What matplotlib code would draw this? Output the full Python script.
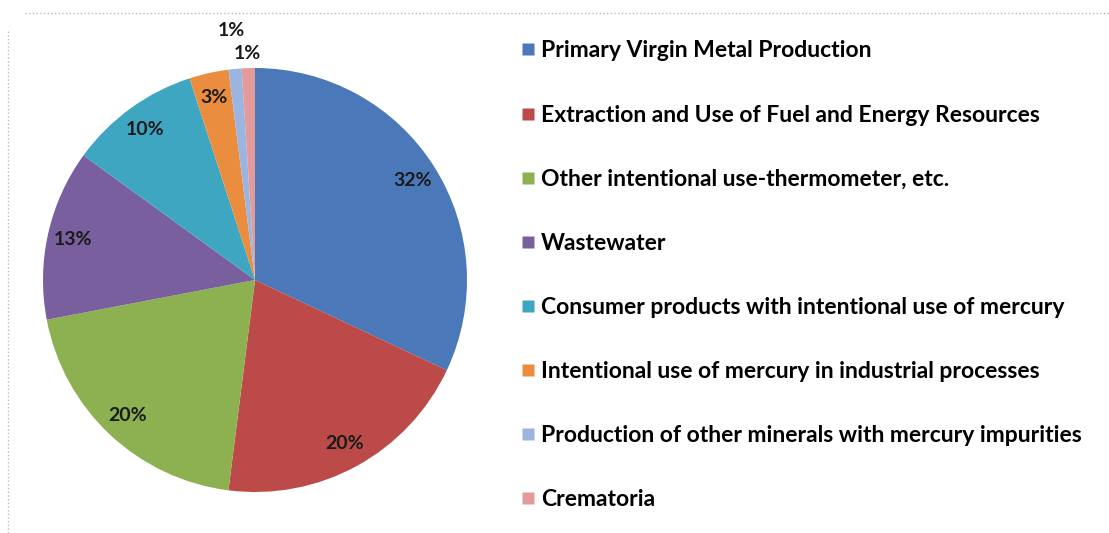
import numpy as np
import matplotlib
matplotlib.use("Agg")
import matplotlib.pyplot as plt
from matplotlib.lines import Line2D

# mercury release sources (%), clockwise from 12 o'clock
sources = [
    "Primary Virgin Metal Production",
    "Extraction and Use of Fuel and Energy Resources",
    "Other intentional use-thermometer, etc.",
    "Wastewater",
    "Consumer products with intentional use of mercury",
    "Intentional use of mercury in industrial processes",
    "Production of other minerals with mercury impurities",
    "Crematoria",
]
shares = [32, 20, 20, 13, 10, 3, 1, 1]
colors = ["#4a78b9", "#bb4a48", "#8db151", "#7a5f9f", "#3fa6c1",
          "#ea8d3f", "#9bb5e0", "#e29a9b"]

plt.rcParams["font.family"] = ["Lato", "DejaVu Sans"]

fig = plt.figure(figsize=(11.09, 5.33), dpi=100)
W, H = 1109, 533
cx, cy, r = 255, 280, 212
ax = fig.add_axes([(cx - r) / W, (H - cy - r) / H, 2 * r / W, 2 * r / H])

wedges, texts, autotexts = ax.pie(
    shares, colors=colors, startangle=90, counterclock=False,
    autopct="%1.0f%%", pctdistance=0.88, radius=1.0,
    wedgeprops=dict(linewidth=0),
    textprops=dict(fontsize=14, fontweight="bold", color="#1a1a1a"))
ax.set_xlim(-1, 1)
ax.set_ylim(-1, 1)
ax.set_aspect("equal")
ax.axis("off")

# small slices get their labels pushed outside
cum = np.cumsum(shares) - np.array(shares) / 2
for i, dist in [(6, 1.18), (7, 1.07)]:
    a = np.deg2rad(90 - cum[i] / sum(shares) * 360)
    autotexts[i].set_position((dist * np.cos(a), dist * np.sin(a)))

handles = [Line2D([], [], marker="s", linestyle="none", markersize=8,
                  markerfacecolor=c, markeredgecolor="none") for c in colors]
fig.legend(handles, sources, loc="upper left", bbox_to_anchor=(511 / W, 1 - 29 / H),
           frameon=False, handlelength=0.5, handletextpad=0.3,
           labelspacing=1.88, borderpad=0,
           prop=dict(family=["Lato", "DejaVu Sans"], weight="bold", size=16.5))

# faint dotted frame of the original screenshot
fig.add_artist(Line2D([25 / W, 1], [1 - 13 / H] * 2, color="#bbbbbb",
                      linestyle=":", linewidth=1))
fig.add_artist(Line2D([8 / W] * 2, [0, 1 - 30 / H], color="#bbbbbb",
                      linestyle=":", linewidth=1))

fig.savefig("out.png", dpi=100)
